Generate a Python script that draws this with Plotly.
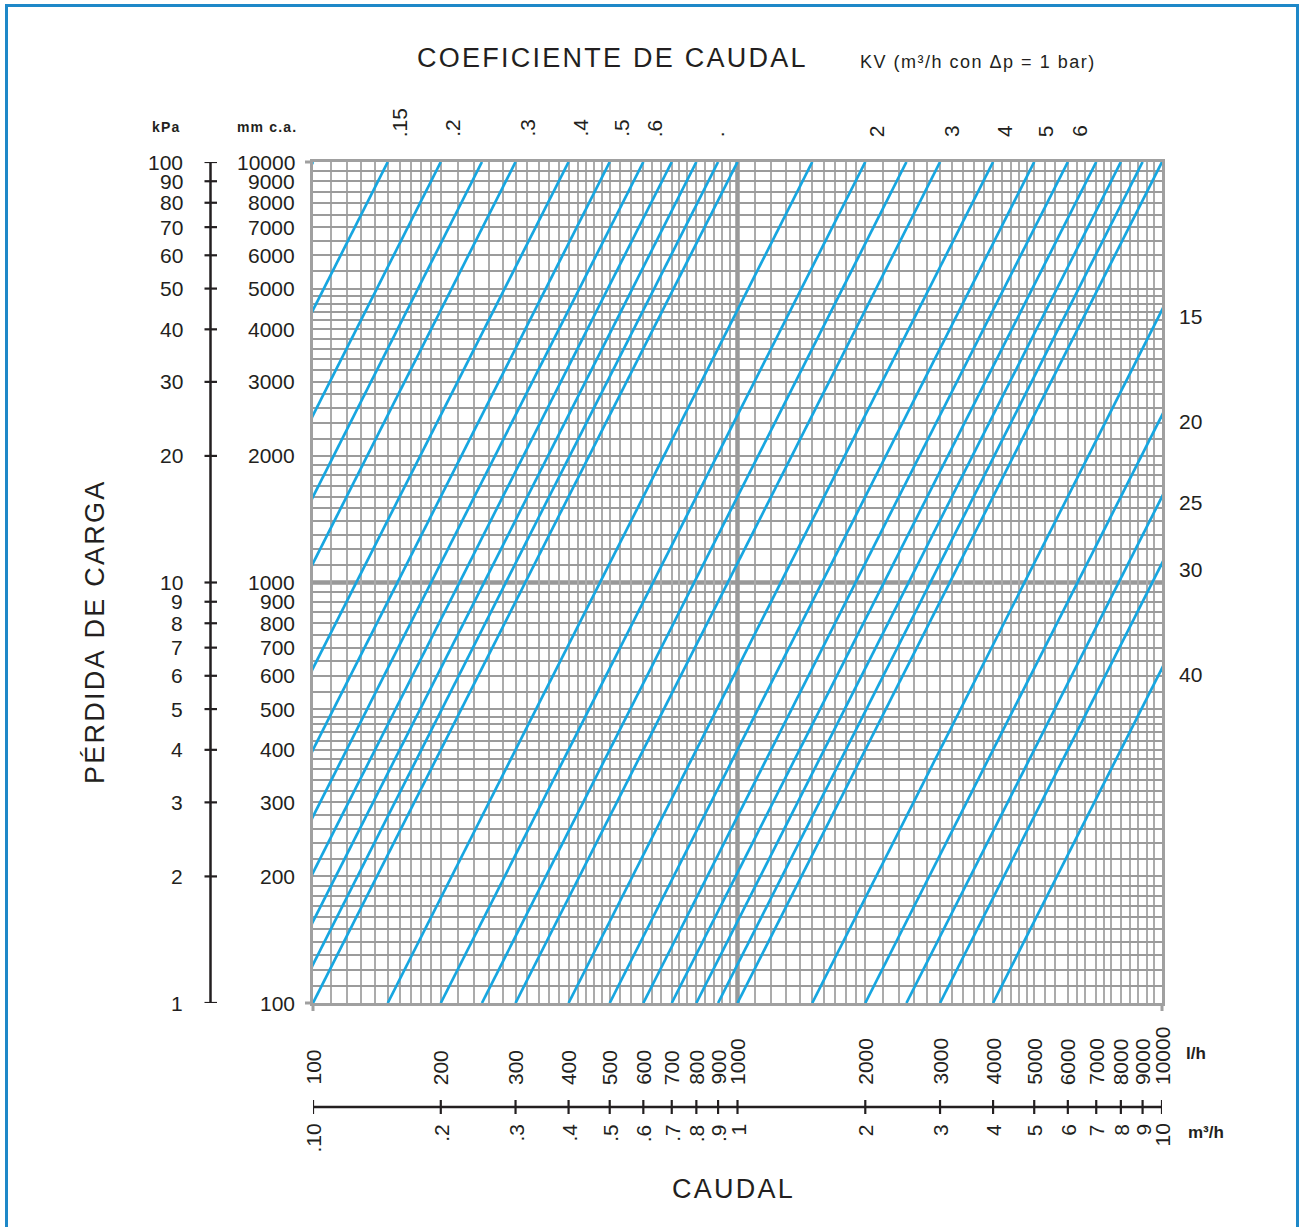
import math
import numpy as np
import plotly.graph_objects as go

# ---------------- data ----------------
kv_values = [0.1, 0.15, 0.2, 0.25, 0.3, 0.4, 0.5, 0.6, 0.7, 0.8, 0.9, 1.0,
             1.5, 2.0, 2.5, 3.0, 4.0, 5.0, 6.0, 7.0, 8.0, 9.0, 10.0,
             15.0, 20.0, 25.0, 30.0, 40.0]
dp_range_kpa = [1, 100]                       # pressure-drop axis span (kPa)
kpa_ticks = [100, 90, 80, 70, 60, 50, 40, 30, 20, 10, 9, 8, 7, 6, 5, 4, 3, 2, 1]
mmca_ticks = [10000, 9000, 8000, 7000, 6000, 5000, 4000, 3000, 2000,
              1000, 900, 800, 700, 600, 500, 400, 300, 200, 100]
flow_lh_ticks = [100, 200, 300, 400, 500, 600, 700, 800, 900, 1000,
                 2000, 3000, 4000, 5000, 6000, 7000, 8000, 9000, 10000]
flow_m3h_ticks = [0.1, 0.2, 0.3, 0.4, 0.5, 0.6, 0.7, 0.8, 0.9, 1,
                  2, 3, 4, 5, 6, 7, 8, 9, 10]
flow_m3h_labels = [".10", ".2", ".3", ".4", ".5", ".6", ".7", ".8", ".9", "1",
                   "2", "3", "4", "5", "6", "7", "8", "9", "10"]
kv_top_values = [0.15, 0.2, 0.3, 0.4, 0.5, 0.6, 0.84, 2, 3, 4, 5, 6]
kv_top_labels = [".15", ".2", ".3", ".4", ".5", ".6", ".", "2", "3", "4", "5", "6"]
kv_right_values = [15, 20, 25, 30, 40]
kv_right_labels = ["15", "20", "25", "30", "40"]

# grid mantissas per decade
grid_mant_x = [1.1, 1.2, 1.3, 1.4, 1.5, 1.6, 1.7, 1.8, 1.9, 2.0,
               2.2, 2.4, 2.6, 2.8, 3.0, 3.2, 3.4, 3.6, 3.8, 4.0, 4.2, 4.4, 4.6, 4.8,
               5.0, 5.3, 5.6, 6.0, 6.3, 6.6, 7.0, 7.3, 7.6, 8.0, 8.4, 8.8, 9.2, 9.6]
grid_mant_y = [1.1, 1.2, 1.3, 1.4, 1.5, 1.6, 1.7, 1.8, 1.9, 2.0,
               2.2, 2.4, 2.6, 2.8, 3.0, 3.2, 3.4, 3.6, 3.8, 4.0, 4.2, 4.4, 4.6, 4.8,
               5.0, 5.5, 6.0, 6.5, 7.0, 7.5, 8.0, 8.5, 9.0, 9.5]

# ---------------- style ----------------
W, H = 1299, 1227
L, R, T, B = 313, 1162, 162, 1003     # plot area in page pixels
PW, PH = R - L, B - T
BLUE = "#17a6e0"
INK = "#231f20"
GRID_H = "#9b9b9b"
GRID_V = "#ababab"
FONT = "Liberation Sans, Arial, sans-serif"


def px(xp):
    return (xp - L) / PW


def py(yp):
    return (B - yp) / PH


def spaced(s, sep="\u200a"):
    return sep.join(list(s))


fig = go.Figure()

for kv in kv_values:
    dp = np.array(dp_range_kpa, dtype=float)
    q_lh = kv * 1000.0 * np.sqrt(dp / 100.0)
    fig.add_trace(go.Scatter(x=q_lh, y=dp, mode="lines",
                             line=dict(color=BLUE, width=2.7),
                             hoverinfo="skip", showlegend=False))

x_grid = [m * d for d in (100, 1000) for m in grid_mant_x]
y_grid = [m * d for d in (1, 10) for m in grid_mant_y]

fig.update_layout(
    width=W, height=H,
    margin=dict(l=L, r=W - R, t=T, b=H - B, pad=0),
    paper_bgcolor="white", plot_bgcolor="white",
    showlegend=False,
    xaxis=dict(type="log", range=[2, 4], showticklabels=False, ticks="",
               tickvals=x_grid, showgrid=True, gridcolor=GRID_V, gridwidth=1.6,
               showline=True, mirror=True, linecolor="#a0a0a0", linewidth=3,
               zeroline=False, fixedrange=True),
    yaxis=dict(type="log", range=[0, 2], showticklabels=False, ticks="",
               tickvals=y_grid, showgrid=True, gridcolor=GRID_H, gridwidth=2.3,
               showline=True, mirror=True, linecolor="#a0a0a0", linewidth=3,
               zeroline=False, fixedrange=True),
)

shapes = []
# decade lines
shapes.append(dict(type="line", xref="x", yref="paper", x0=1000, x1=1000, y0=0, y1=1,
                   line=dict(color="#999999", width=4.5), layer="between"))
shapes.append(dict(type="line", xref="paper", yref="y", x0=0, x1=1, y0=10, y1=10,
                   line=dict(color="#999999", width=4.5), layer="between"))
# frame extensions
for yy in (0, 1):
    shapes.append(dict(type="line", xref="paper", yref="paper", x0=px(305), x1=0, y0=yy, y1=yy,
                       line=dict(color="#a0a0a0", width=3)))
for xx in (0, 1):
    shapes.append(dict(type="line", xref="paper", yref="paper", x0=xx, x1=xx, y0=py(1011), y1=0,
                       line=dict(color="#a0a0a0", width=3)))
# left pressure axis
shapes.append(dict(type="line", xref="paper", yref="y", x0=px(210.5), x1=px(210.5),
                   y0=dp_range_kpa[0], y1=dp_range_kpa[1], line=dict(color=INK, width=2.5)))
for v in kpa_ticks:
    shapes.append(dict(type="line", xref="paper", yref="y", x0=px(204.5), x1=px(217),
                       y0=v, y1=v, line=dict(color=INK, width=2.2)))
# m3/h axis
shapes.append(dict(type="line", xref="x", yref="paper", x0=flow_lh_ticks[0], x1=flow_lh_ticks[-1],
                   y0=py(1107), y1=py(1107), line=dict(color=INK, width=2.5)))
for v in flow_m3h_ticks:
    shapes.append(dict(type="line", xref="x", yref="paper", x0=v * 1000, x1=v * 1000,
                       y0=py(1100), y1=py(1114), line=dict(color=INK, width=2.2)))
# blue border
shapes.append(dict(type="rect", xref="paper", yref="paper", x0=px(6.5), x1=px(1297.5),
                   y0=py(1240), y1=py(5.5), line=dict(color="#1e88c8", width=3)))
fig.update_layout(shapes=shapes)

ann = []
NUM = dict(family=FONT, size=21, color=INK)
for v in kpa_ticks:
    ann.append(dict(xref="paper", yref="y", x=px(185), y=math.log10(v), text=str(v),
                    xanchor="right", yanchor="middle", showarrow=False, font=NUM))
for v, k in zip(mmca_ticks, kpa_ticks):
    ann.append(dict(xref="paper", yref="y", x=px(297), y=math.log10(k), text=str(v),
                    xanchor="right", yanchor="middle", showarrow=False, font=NUM))
for v in flow_lh_ticks:
    ann.append(dict(xref="x", yref="paper", x=math.log10(v), y=py(1087), text=str(v),
                    textangle=-90, xanchor="center", yanchor="bottom", showarrow=False, font=NUM))
for v, t in zip(flow_m3h_ticks, flow_m3h_labels):
    ann.append(dict(xref="x", yref="paper", x=math.log10(v * 1000), y=py(1122), text=t,
                    textangle=-90, xanchor="center", yanchor="top", showarrow=False, font=NUM))
for v, t in zip(kv_top_values, kv_top_labels):
    ann.append(dict(xref="x", yref="paper", x=math.log10(v * 1000), y=py(139), text=t,
                    xshift=12, textangle=-90, xanchor="center", yanchor="bottom",
                    showarrow=False, font=NUM))
for v, t in zip(kv_right_values, kv_right_labels):
    dp_exit = 100.0 * (flow_lh_ticks[-1] / 1000.0 / v) ** 2
    ann.append(dict(xref="paper", yref="y", x=px(1190), y=math.log10(dp_exit), text=t,
                    yshift=-6, xanchor="center", yanchor="middle", showarrow=False, font=NUM))

TITLE = dict(family=FONT, size=27, color=INK)
ann.append(dict(xref="paper", yref="paper", x=px(611), y=py(58), text=spaced("COEFICIENTE DE CAUDAL"),
                xanchor="center", yanchor="middle", showarrow=False, font=TITLE))
ann.append(dict(xref="paper", yref="paper", x=px(977), y=py(62), text=spaced("KV (m³/h con Δp = 1 bar)"),
                xanchor="center", yanchor="middle", showarrow=False,
                font=dict(family=FONT, size=18, color=INK)))
ann.append(dict(xref="paper", yref="paper", x=px(95), y=py(633), text=spaced("PÉRDIDA DE CARGA"),
                textangle=-90, xanchor="center", yanchor="middle", showarrow=False, font=TITLE))
ann.append(dict(xref="paper", yref="paper", x=px(732), y=py(1189), text=spaced("CAUDAL"),
                xanchor="center", yanchor="middle", showarrow=False, font=TITLE))
SMALLB = dict(family=FONT, size=14, color=INK, weight="bold")
ann.append(dict(xref="paper", yref="paper", x=px(165), y=py(127), text=spaced("kPa"),
                xanchor="center", yanchor="middle", showarrow=False, font=SMALLB))
ann.append(dict(xref="paper", yref="paper", x=px(266), y=py(127), text=spaced("mm c.a."),
                xanchor="center", yanchor="middle", showarrow=False, font=SMALLB))
UNITB = dict(family=FONT, size=17, color=INK, weight="bold")
ann.append(dict(xref="paper", yref="paper", x=px(1196), y=py(1053), text="l/h",
                xanchor="center", yanchor="middle", showarrow=False, font=UNITB))
ann.append(dict(xref="paper", yref="paper", x=px(1206), y=py(1132), text="m³/h",
                xanchor="center", yanchor="middle", showarrow=False, font=UNITB))
fig.update_layout(annotations=ann)

# remove the browser's default page margin so the figure fills the window exactly
fig.write_html("out.html",
               config={"displayModeBar": False},
               post_script="document.body.style.margin='0';"
                           "document.documentElement.style.overflow='hidden';")
